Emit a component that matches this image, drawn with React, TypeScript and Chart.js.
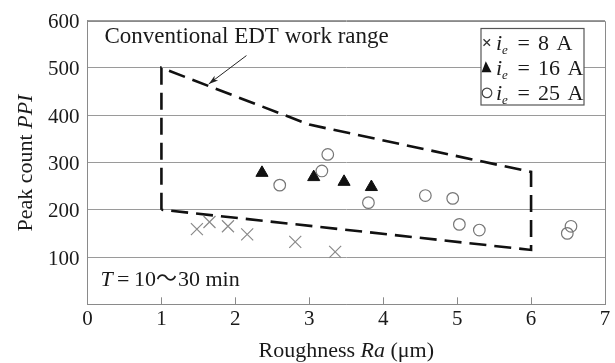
import React, { useEffect, useRef } from 'react';
import { Chart, registerables } from 'chart.js';

Chart.register(...registerables);

// ---------- data ----------
const ie8X = [1.48, 1.65, 1.9, 2.16, 2.81, 3.35];
const ie8Y = [159, 174, 165, 148, 132, 111];

const ie16X = [2.36, 3.06, 3.47, 3.84];
const ie16Y = [278, 269, 259, 248];

const ie25X = [2.6, 3.17, 3.25, 3.8, 4.57, 4.94, 5.03, 5.3, 6.49, 6.54];
const ie25Y = [252, 282, 317, 215, 230, 224, 169, 157, 150, 165];

// conventional EDT work range (dashed polygon)
const rangeX = [1, 1, 3, 6, 6, 1];
const rangeY = [200, 500, 380, 280, 115, 200];

// arrow from label to range boundary [x, y]
const arrowFrom = [2.15, 526];
const arrowTo = [1.64, 466];

const xTicks = [0, 1, 2, 3, 4, 5, 6, 7];
const yTicks = [0, 100, 200, 300, 400, 500, 600];

const rangeLabel = 'Conventional EDT work range';
const legendRows = [
  { marker: 'cross', num: '8' },
  { marker: 'triangle', num: '16' },
  { marker: 'circle', num: '25' },
];

const SERIF = '"Liberation Serif", "Times New Roman", serif';
const CJK = '"Noto Sans CJK JP", "Noto Sans CJK SC", sans-serif';
const TEXT = '#1a1a1a';

const toPts = (xs: number[], ys: number[]) => xs.map((x, i) => ({ x, y: ys[i] }));

const decorPlugin = {
  id: 'decor',
  afterDraw(chart: any) {
    const ctx: CanvasRenderingContext2D = chart.ctx;
    const { left, right, top, bottom } = chart.chartArea;
    const xs = chart.scales.x;
    const ys = chart.scales.y;
    ctx.save();

    // frame top / right
    ctx.strokeStyle = '#8a8a8a';
    ctx.lineWidth = 1;
    ctx.beginPath();
    ctx.moveTo(left, Math.round(top) + 0.5);
    ctx.lineTo(Math.round(right) + 0.5, Math.round(top) + 0.5);
    ctx.lineTo(Math.round(right) + 0.5, bottom);
    ctx.stroke();

    // inward x ticks
    ctx.beginPath();
    for (const t of xTicks) {
      if (t === 0 || t === 7) continue;
      const px = Math.round(xs.getPixelForValue(t)) + 0.5;
      ctx.moveTo(px, bottom);
      ctx.lineTo(px, bottom - 7);
    }
    ctx.stroke();

    ctx.fillStyle = TEXT;
    ctx.textBaseline = 'alphabetic';
    ctx.textAlign = 'left';

    // range label
    ctx.font = `23px ${SERIF}`;
    ctx.fillText(rangeLabel, 104.5, 43);

    // arrow
    const ax1 = xs.getPixelForValue(arrowFrom[0]);
    const ay1 = ys.getPixelForValue(arrowFrom[1]);
    const ax2 = xs.getPixelForValue(arrowTo[0]);
    const ay2 = ys.getPixelForValue(arrowTo[1]);
    ctx.strokeStyle = '#222';
    ctx.lineWidth = 1;
    ctx.beginPath();
    ctx.moveTo(ax1, ay1);
    ctx.lineTo(ax2, ay2);
    ctx.stroke();
    const ang = Math.atan2(ay2 - ay1, ax2 - ax1);
    ctx.fillStyle = '#222';
    ctx.beginPath();
    ctx.moveTo(ax2, ay2);
    ctx.lineTo(ax2 - 10 * Math.cos(ang - 0.3), ay2 - 10 * Math.sin(ang - 0.3));
    ctx.lineTo(ax2 - 7 * Math.cos(ang), ay2 - 7 * Math.sin(ang));
    ctx.lineTo(ax2 - 10 * Math.cos(ang + 0.3), ay2 - 10 * Math.sin(ang + 0.3));
    ctx.closePath();
    ctx.fill();

    // T = 10~30 min
    ctx.fillStyle = TEXT;
    const tb = 286;
    ctx.font = `italic 22px ${SERIF}`;
    ctx.fillText('T', 100.5, tb);
    ctx.font = `22px ${SERIF}`;
    ctx.fillText('=', 117, tb);
    ctx.fillText('10', 134, tb);
    ctx.font = `21px ${CJK}`;
    ctx.fillText('〜', 156, tb - 1);
    ctx.font = `22px ${SERIF}`;
    ctx.fillText('30', 178, tb);
    ctx.fillText('min', 205.5, tb);

    // legend box
    ctx.fillStyle = '#fff';
    ctx.fillRect(481, 28.5, 103, 76.5);
    ctx.strokeStyle = '#555';
    ctx.lineWidth = 1.2;
    ctx.strokeRect(481, 28.5, 103, 76.5);
    legendRows.forEach((row, i) => {
      const base = 49.5 + i * 25.2;
      const cy = base - 7;
      if (row.marker === 'cross') {
        ctx.strokeStyle = '#333';
        ctx.lineWidth = 1.3;
        ctx.beginPath();
        ctx.moveTo(483.5, cy - 3.3);
        ctx.lineTo(490, cy + 3.3);
        ctx.moveTo(490, cy - 3.3);
        ctx.lineTo(483.5, cy + 3.3);
        ctx.stroke();
      } else if (row.marker === 'triangle') {
        ctx.fillStyle = '#111';
        ctx.beginPath();
        ctx.moveTo(485.8, cy - 6.5);
        ctx.lineTo(491.5, cy + 4.5);
        ctx.lineTo(480.1 + 1.5, cy + 4.5);
        ctx.closePath();
        ctx.fill();
      } else {
        ctx.strokeStyle = '#444';
        ctx.lineWidth = 1.2;
        ctx.beginPath();
        ctx.arc(487, cy, 4.8, 0, Math.PI * 2);
        ctx.stroke();
      }
      ctx.fillStyle = TEXT;
      ctx.font = `italic 22px ${SERIF}`;
      ctx.fillText('i', 496, base);
      ctx.font = `italic 13px ${SERIF}`;
      ctx.fillText('e', 502, base + 4);
      ctx.font = `22px ${SERIF}`;
      ctx.fillText('=', 517.5, base);
      ctx.fillText(row.num, 538, base);
      const w = ctx.measureText(row.num).width;
      ctx.fillText('A', 538 + w + 7.5, base);
    });

    // x title
    ctx.fillStyle = TEXT;
    const parts: [string, boolean][] = [
      ['Roughness ', false],
      ['Ra', true],
      [' (μm)', false],
    ];
    let total = 0;
    for (const [s, it] of parts) {
      ctx.font = `${it ? 'italic ' : ''}22px ${SERIF}`;
      total += ctx.measureText(s).width;
    }
    let cx = (left + right) / 2 - total / 2;
    for (const [s, it] of parts) {
      ctx.font = `${it ? 'italic ' : ''}22px ${SERIF}`;
      ctx.fillText(s, cx, 357);
      cx += ctx.measureText(s).width;
    }

    // y title
    const yparts: [string, boolean][] = [
      ['Peak count ', false],
      ['PPI', true],
    ];
    let ytotal = 0;
    for (const [s, it] of yparts) {
      ctx.font = `${it ? 'italic ' : ''}22px ${SERIF}`;
      ytotal += ctx.measureText(s).width;
    }
    ctx.save();
    ctx.translate(31.5, 163);
    ctx.rotate(-Math.PI / 2);
    let yx = -ytotal / 2;
    for (const [s, it] of yparts) {
      ctx.font = `${it ? 'italic ' : ''}22px ${SERIF}`;
      ctx.fillText(s, yx, 0);
      yx += ctx.measureText(s).width;
    }
    ctx.restore();

    ctx.restore();
  },
};

export default function App() {
  const ref = useRef<HTMLCanvasElement>(null);
  useEffect(() => {
    document.body.style.margin = '0';
    const chart = new Chart(ref.current as HTMLCanvasElement, {
      type: 'scatter',
      data: {
        datasets: [
          {
            label: 'range',
            data: toPts(rangeX, rangeY),
            showLine: true,
            borderColor: '#111',
            borderWidth: 2.6,
            borderDash: [17, 8],
            borderCapStyle: 'butt',
            borderJoinStyle: 'miter',
            pointRadius: 0,
            fill: false,
            tension: 0,
            order: 4,
          } as any,
          {
            label: 'ie = 8 A',
            data: toPts(ie8X, ie8Y),
            pointStyle: 'crossRot',
            pointRadius: 8.5,
            borderColor: '#8a8a8a',
            backgroundColor: '#8a8a8a',
            borderWidth: 1.2,
            order: 1,
          } as any,
          {
            label: 'ie = 16 A',
            data: toPts(ie16X, ie16Y),
            pointStyle: 'triangle',
            pointRadius: 7,
            borderColor: '#111',
            backgroundColor: '#111',
            borderWidth: 1,
            order: 2,
          } as any,
          {
            label: 'ie = 25 A',
            data: toPts(ie25X, ie25Y),
            pointStyle: 'circle',
            pointRadius: 5.8,
            borderColor: '#777',
            backgroundColor: 'rgba(0,0,0,0)',
            borderWidth: 1.2,
            order: 3,
          } as any,
        ],
      },
      options: {
        responsive: false,
        animation: false,
        devicePixelRatio: 1,
        layout: { padding: { left: 0, top: 14.5, right: 10, bottom: 0 } },
        plugins: {
          legend: { display: false },
          tooltip: { enabled: false },
          title: { display: false },
        },
        scales: {
          x: {
            type: 'linear',
            min: 0,
            max: 7,
            afterFit: (s: any) => {
              s.height = 58.7;
            },
            afterBuildTicks: (s: any) => {
              s.ticks = xTicks.map((v) => ({ value: v }));
            },
            grid: { display: false, drawTicks: false },
            border: { display: true, color: '#8a8a8a', width: 1 },
            ticks: {
              padding: 3,
              color: TEXT,
              font: { family: SERIF, size: 21 },
              maxRotation: 0,
              autoSkip: false,
            },
          },
          y: {
            type: 'linear',
            min: 0,
            max: 600,
            afterFit: (s: any) => {
              s.width = 87.5;
            },
            afterBuildTicks: (s: any) => {
              s.ticks = yTicks.map((v) => ({ value: v }));
            },
            grid: { color: '#9a9a9a', lineWidth: 1, drawTicks: false },
            border: { display: true, color: '#8a8a8a', width: 1 },
            ticks: {
              padding: 8,
              labelOffset: 2,
              color: TEXT,
              font: { family: SERIF, size: 21 },
              autoSkip: false,
              callback: (v: any) => (v === 0 ? '' : String(v)),
            },
          },
        },
      },
      plugins: [decorPlugin],
    });
    return () => chart.destroy();
  }, []);
  return (
    <canvas
      ref={ref}
      width={615}
      height={363}
      style={{ display: 'block', width: 615, height: 363 }}
    />
  );
}
